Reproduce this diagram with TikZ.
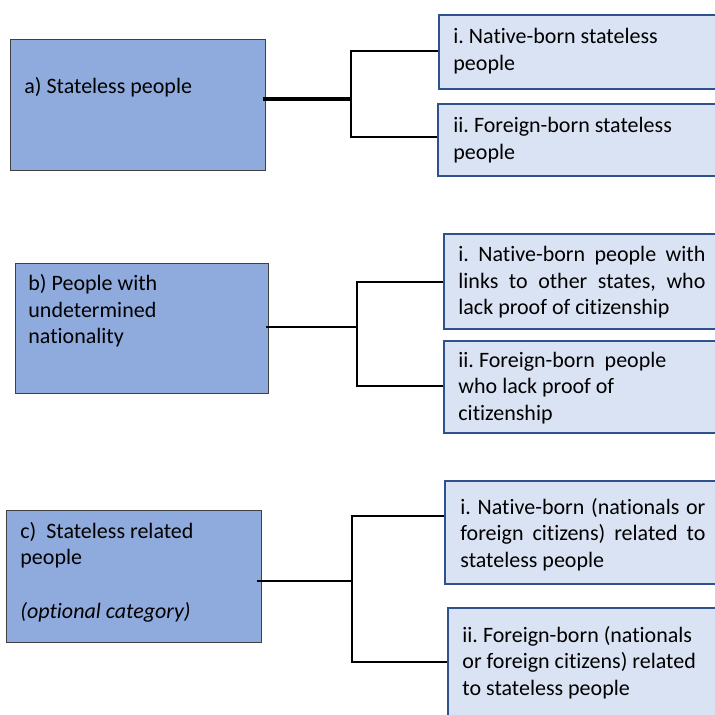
\documentclass[tikz,border=0pt]{standalone}
\usepackage{fontspec}
\setmainfont{Carlito}[Ligatures=NoCommon]
\usetikzlibrary{positioning}
\usetikzlibrary{calc}
\frenchspacing

\definecolor{mainfill}{HTML}{8FAADC}
\definecolor{mainline}{HTML}{404040}
\definecolor{subfill}{HTML}{DAE3F3}
\definecolor{subline}{HTML}{2F528F}

\begin{document}
\begin{tikzpicture}
  [
    x=0.5pt, y=-0.5pt,
    mainbox/.style = {draw=mainline, line width=0.6pt, fill=mainfill, rectangle, anchor=north west, inner sep=0pt},
    subbox/.style  = {draw=subline, line width=1pt, fill=subfill, rectangle, anchor=north west, inner sep=0pt},
    txt/.style     = {anchor=base west, inner sep=0pt, font=\fontsize{11}{13.25}\selectfont},
    trunk/.style   = {line width=0.9pt},
    branch/.style  = {line width=0.9pt},
  ]

  \useasboundingbox (0,0) rectangle (715,715);
  \clip (0,0) rectangle (715,715);

  \def\subw{142pt}

  % a) stateless people
  \node (a) at (10,39) [mainbox, minimum width=127.5pt, minimum height=65.5pt] {};
  \node (ta) at (24,94) [txt] {\parbox[t]{120pt}{a) Stateless people}};

  \node (ai) at (438,14) [subbox, minimum width=\subw, minimum height=37pt] {};
  \node (tai) at (453,44) [txt] {\parbox[t]{130pt}{i. Native-born stateless\\people}};
  \node (aii) at (437,103) [subbox, minimum width=\subw, minimum height=36pt] {};
  \node (taii) at (453,133) [txt] {\parbox[t]{130pt}{ii. Foreign-born stateless\\people}};

  \coordinate (ja) at (351,99);
  \coordinate (ja1) at (351,51);
  \coordinate (ja2) at (351,137);
  \draw[trunk, line width=2pt] ([xshift=-1.5pt]a.east |- ja) -- (ja);
  \draw[branch] (ai.west |- ja1) -- (ja1) -- (ja2) -- (aii.west |- ja2);

  % b) undetermined nationality
  \node (b) at (15,263) [mainbox, minimum width=126.5pt, minimum height=65pt] {};
  \node (tb) at (28,291) [txt] {\parbox[t]{120pt}{b) People with\\undetermined\\nationality}};

  \node (bi) at (443,233) [subbox, minimum width=\subw, minimum height=47.5pt] {};
  \node (tbi) at (458,262) [txt] {\parbox[t]{123.5pt}{i. Native-born people with\linebreak links to other states, who\linebreak lack proof of citizenship}};
  \node (bii) at (443,340) [subbox, minimum width=\subw, minimum height=46pt] {};
  \node (tbii) at (458,367) [txt] {\parbox[t]{130pt}{ii. Foreign-born\ \ people\\who lack proof of\\citizenship}};

  \coordinate (jb) at (357,327);
  \coordinate (jb1) at (357,282);
  \coordinate (jb2) at (357,386);
  \draw[trunk] ([xshift=-1.5pt]b.east |- jb) -- (jb);
  \draw[branch] (bi.west |- jb1) -- (jb1) -- (jb2) -- (bii.west |- jb2);

  % c) stateless related people
  \node (c) at (6,510) [mainbox, minimum width=127.5pt, minimum height=66pt] {};
  \node (tc) at (20,538) [txt] {\parbox[t]{120pt}{c)\ \ Stateless related\\people}};
  \node (tc2) at (20,618) [txt] {\textit{(optional category)}};

  \node (ci) at (444,480) [subbox, minimum width=\subw, minimum height=51.5pt] {};
  \node (tci) at (460,514) [txt] {\parbox[t]{122.5pt}{i. Native-born (nationals or\linebreak foreign citizens) related to\linebreak stateless people}};
  \node (cii) at (447,607) [subbox, minimum width=\subw, minimum height=57.5pt] {};
  \node (tcii) at (462,642) [txt] {\parbox[t]{130pt}{ii. Foreign-born (nationals\\or foreign citizens) related\\to stateless people}};

  \coordinate (jc) at (352,581);
  \coordinate (jc1) at (352,516);
  \coordinate (jc2) at (352,662);
  \draw[trunk] ([xshift=-2.5pt]c.east |- jc) -- (jc);
  \draw[branch] (ci.west |- jc1) -- (jc1) -- (jc2) -- (cii.west |- jc2);

\end{tikzpicture}
\end{document}
